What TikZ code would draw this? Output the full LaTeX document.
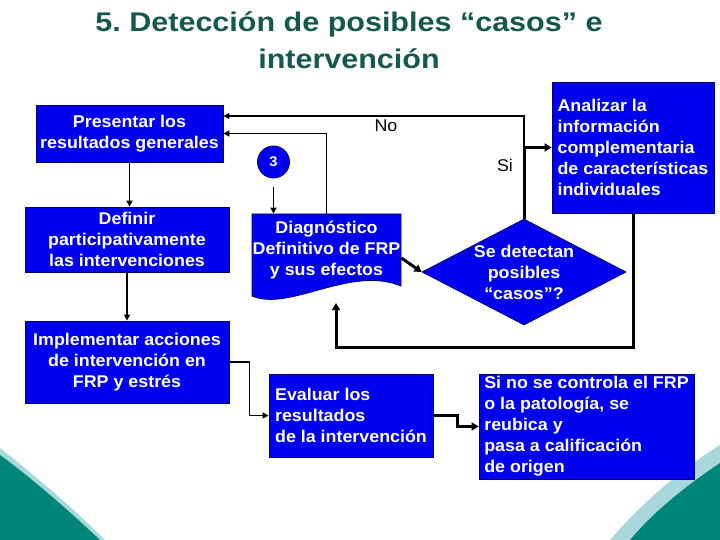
\documentclass[tikz,border=0pt]{standalone}
\usepackage{fontspec}
\setmainfont{Liberation Sans}[FakeStretch=1.05]
\newfontfamily\titlefont{Liberation Sans}[FakeStretch=1.13]
\usetikzlibrary{shapes.geometric,arrows.meta}
\definecolor{boxblue}{RGB}{0,0,238}
\definecolor{boxedge}{RGB}{0,0,110}
\definecolor{tealA}{RGB}{0,133,122}
\definecolor{tealL}{RGB}{168,216,220}
\definecolor{titlecol}{RGB}{20,88,78}
\frenchspacing
\begin{document}
\begin{tikzpicture}[x=1pt,y=-1pt,
 blk/.style={draw=boxedge, line width=0.8pt, fill=boxblue, text=white, font=\bfseries\fontsize{17}{21}\selectfont, inner sep=0pt, align=center},
 thinarr/.style={draw=black, line width=1.8pt, -{Triangle[length=6pt,width=6pt]}},
 thickarr/.style={draw=black, line width=3pt, -{Triangle[length=7pt,width=8pt]}},
 lbl/.style={font=\fontsize{17}{19}\selectfont, inner sep=0pt}
]
\useasboundingbox (0,0) rectangle (720,540);
\fill[white] (0,0) rectangle (720,540);
% corner swooshes
\fill[tealL] (0,448) .. controls (30,472) and (68,503) .. (105,540) -- (0,540) -- cycle;
\fill[tealA] (0,455) .. controls (30,477) and (65,507) .. (100,540) -- (0,540) -- cycle;
\fill[tealL] (720,445) .. controls (680,470) and (640,505) .. (610,540) -- (720,540) -- cycle;
\fill[tealA] (720,463) .. controls (690,483) and (655,510) .. (630,540) -- (720,540) -- cycle;
% title
\node[font=\titlefont\bfseries\fontsize{27}{37}\selectfont, text=titlecol, align=center, inner sep=0pt] (title) at (349,40) {5. Detección de posibles “casos” e\\intervención};
% boxes
\node[blk, minimum width=187pt, minimum height=57pt] (pres) at (129.5,133.5) {Presentar los\\resultados generales};
\node[blk, minimum width=204pt, minimum height=65pt] (def) at (127,239.5) {Definir\\participativamente\\las intervenciones};
\node[blk, minimum width=204pt, minimum height=82pt] (impl) at (127,362) {Implementar acciones\\de intervención en\\FRP y estrés};
\node[circle, draw=boxedge, line width=0.8pt, fill=boxblue, minimum size=32pt, inner sep=0pt, text=white, font=\bfseries\fontsize{14}{14}\selectfont] (c3) at (273.5,162) {3};
\filldraw[fill=boxblue, draw=boxedge, line width=0.8pt] (252,214) -- (401,214) -- (401,286) .. controls (350,265) and (290,312) .. (252,296) -- cycle;
\node[blk, draw=none, fill=none, minimum width=149pt, minimum height=72pt] (diag) at (326.5,250) {Diagnóstico\\Definitivo de FRP\\y sus efectos};
\node[blk, minimum width=164pt, minimum height=83pt, align=left] (eval) at (351,415.5) {Evaluar los\\resultados\\de la intervención};
\node[blk, shape=diamond, aspect=1.92, inner sep=-3pt, minimum width=204pt, minimum height=106pt] (dia) at (524,272) {Se detectan\\posibles\\“casos”?};
\node[blk, minimum width=162pt, minimum height=131pt, align=left] (ana) at (633,147.5) {Analizar la\\información\\complementaria\\de características\\individuales};
\node[blk, minimum width=215pt, minimum height=105pt, align=left] (sino) at (586.5,426.5) {Si no se controla el FRP\\o la patología, se\\reubica y\\pasa a calificación\\de origen};
% labels
\node[lbl] (nolbl) at (386,126) {No};
\node[lbl] (silbl) at (505,165) {Si};
% connectors
\draw[thinarr] (pres.south) -- (pres.south |- def.north);
\draw[thinarr] (def.south) -- (impl.north);
\draw[thinarr] (impl.east) -- ++(20,0) |- (eval.west);
\draw[thickarr] (eval.east) -- ++(24,0) |- (sino.west);
\draw[thinarr] ([yshift=-9pt]c3.south) -- (c3.south |- diag.north);
\draw[thinarr] (diag.north) |- (pres.east);
\draw[thickarr] ([yshift=-8pt]diag.east) -- (dia.west);
\draw[thickarr] (dia.north) |- (ana.west);
\draw[thinarr] (dia.north |- ana.west) |- ([yshift=17.5pt]pres.east);
\coordinate (diagbot) at (336,303);
\draw[thickarr] (ana.south) -- ++(0,134) -| (diagbot);
\end{tikzpicture}
\end{document}
